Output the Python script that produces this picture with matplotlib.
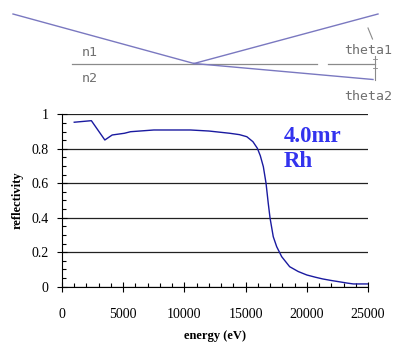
import matplotlib
matplotlib.use("Agg")
import matplotlib.pyplot as plt
from matplotlib.ticker import MultipleLocator

plt.rcParams['font.family'] = ['Liberation Serif', 'DejaVu Serif']

# reflectivity curve, Rh at 4.0 mrad
energy = [1000, 2400, 3500, 4100, 5100, 5600, 7500, 10500, 12000, 13700, 14500,
          15100, 15600, 15960, 16200, 16450, 16670, 16850, 17000, 17260, 17540,
          17950, 18600, 19300, 20000, 20700, 21300, 22000, 22700, 23300, 23800, 25000]
reflectivity = [0.954, 0.963, 0.851, 0.88, 0.89, 0.899, 0.909, 0.909, 0.903, 0.89, 0.882,
                0.87, 0.841, 0.803, 0.76, 0.696, 0.60, 0.484, 0.397, 0.29, 0.232,
                0.174, 0.116, 0.088, 0.068, 0.055, 0.045, 0.036, 0.028, 0.021, 0.016, 0.016]
x_ticks = [0, 5000, 10000, 15000, 20000, 25000]
y_ticks = [0, 0.2, 0.4, 0.6, 0.8, 1]
y_labels = ['0', '0.2', '0.4', '0.6', '0.8', '1']

# sketch of the reflection geometry (pixel space)
beam_in = ([13, 194], [14, 63.5])
beam_out = ([194, 378], [63.5, 14])
beam_refr = ([194, 373], [63.5, 79.5])
surface_a = ([72, 317], [63.5, 63.5])
surface_b = ([328, 375], [63.5, 63.5])

fig = plt.figure(figsize=(3.98, 3.45), dpi=100)

sk = fig.add_axes([0, 0, 1, 1])
sk.set_xlim(0, 398)
sk.set_ylim(345, 0)
sk.axis('off')
line_col = '#7a78c0'
gray = '#8a8a8a'
sk.plot(*surface_a, color=gray, lw=0.9)
sk.plot(*surface_b, color=gray, lw=0.9)
sk.plot(*beam_in, color=line_col, lw=1.0)
sk.plot(*beam_out, color=line_col, lw=1.0)
sk.plot(*beam_refr, color=line_col, lw=1.0)
sk.plot([368, 372.5], [28, 39], color=gray, lw=0.8)
sk.plot([375, 375], [56, 80], color=gray, lw=0.8)
sk.plot([373, 377], [59, 59], color=gray, lw=0.6)
sk.plot([373, 377], [68, 68], color=gray, lw=0.6)
cad = dict(family='DejaVu Sans Mono', color='#707070', fontsize=9.5, va='center')
sk.text(82, 52, 'n1', ha='left', **cad)
sk.text(82, 79, 'n2', ha='left', **cad)
sk.text(344, 51, 'theta1', ha='left', **cad)
sk.text(344, 97, 'theta2', ha='left', **cad)

ax = fig.add_axes([62/398, 1 - 286.7/345, 306/398, 172.4/345])
ax.plot(energy, reflectivity, color='#1a1aa0', lw=1.0)
ax.set_xlim(0, 25000)
ax.set_ylim(0, 1)
ax.set_xticks(x_ticks)
ax.set_yticks(y_ticks)
ax.set_yticklabels(y_labels)
ax.xaxis.set_minor_locator(MultipleLocator(1000))
ax.yaxis.set_minor_locator(MultipleLocator(0.05))
ax.tick_params(which='major', direction='inout', length=7, width=0.8, labelsize=10)
ax.tick_params(axis='x', which='major', pad=12)
ax.tick_params(axis='y', which='major', pad=6)
ax.tick_params(which='minor', direction='in', length=3, width=0.8)
ax.grid(axis='y', color='#222222', lw=0.9)
ax.spines['top'].set_visible(False)
ax.spines['right'].set_visible(False)
ax.set_xlabel('energy (eV)', fontsize=9, fontweight='bold', labelpad=6)
ax.set_ylabel('reflectivity', fontsize=9, fontweight='bold', labelpad=6)
ax.text(18150, 0.935, '4.0mr\nRh', color='#3333ee', fontsize=16.5, fontweight='bold',
        va='top', ha='left', linespacing=1.25)

fig.savefig('out.png', dpi=100)
